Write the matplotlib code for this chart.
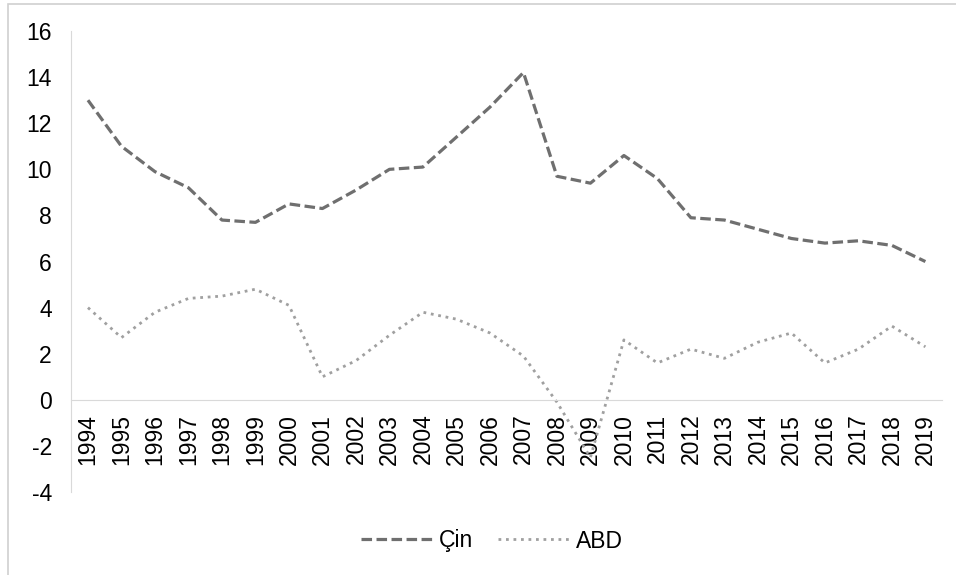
"""Çin ve ABD büyüme oranları grafiği."""

import matplotlib.pyplot as plt
from matplotlib.patches import Rectangle

plt.rcParams["font.family"] = ["Liberation Sans", "DejaVu Sans"]
plt.rcParams["axes.unicode_minus"] = False

yillar = [str(y) for y in range(1994, 2020)]
cin = [13.0, 11.0, 9.9, 9.2, 7.8, 7.7, 8.5, 8.3, 9.1, 10.0, 10.1, 11.4, 12.7,
       14.2, 9.7, 9.4, 10.6, 9.6, 7.9, 7.8, 7.4, 7.0, 6.8, 6.9, 6.7, 6.0]
abd = [4.0, 2.7, 3.8, 4.4, 4.5, 4.8, 4.1, 1.0, 1.7, 2.8, 3.8, 3.5, 2.9,
       1.9, -0.1, -2.5, 2.6, 1.6, 2.2, 1.8, 2.5, 2.9, 1.6, 2.2, 3.2, 2.3]


def plotar(img_path: str = "out.png") -> None:
    fig = plt.figure(figsize=(9.56, 5.75), dpi=100)
    ax = fig.add_axes([0.0745, 0.1443, 0.911, 0.8017])

    x = range(len(yillar))
    ax.plot(x, cin, color="#6f6f6f", lw=2.3, linestyle=(0, (3.3, 1.4)),
            label="Çin")
    ax.plot(x, abd, color="#a0a0a0", lw=2.0, linestyle=(0, (1, 1.7)),
            label="ABD")

    for s in ("top", "right"):
        ax.spines[s].set_visible(False)
    ax.spines["bottom"].set_position(("data", 0))
    ax.spines["bottom"].set_color("#d9d9d9")
    ax.spines["left"].set_color("#d9d9d9")

    ax.set_xlim(-0.5, len(yillar) - 0.5)
    ax.set_ylim(-4, 16)
    ax.set_yticks(range(-4, 17, 2))
    ax.set_xticks(list(x))
    ax.set_xticklabels(yillar, rotation=90, fontsize=16.5)
    ax.tick_params(axis="y", length=0, pad=14, labelsize=16.5)
    ax.tick_params(axis="x", length=0, pad=10)

    fig.legend(loc="center", bbox_to_anchor=(492 / 956, 1 - 541 / 575),
               ncol=2, frameon=False, fontsize=16.5, handlelength=3.1,
               columnspacing=1.1, handletextpad=0.3)

    fig.patches.append(Rectangle((8 / 956, -0.01), 1.0, 1 - 4 / 575 + 0.01,
                                 transform=fig.transFigure, fill=False,
                                 edgecolor="#d0d0d0", lw=1.2))
    fig.savefig(img_path, dpi=100)
    plt.close(fig)


if __name__ == "__main__":
    plotar()
